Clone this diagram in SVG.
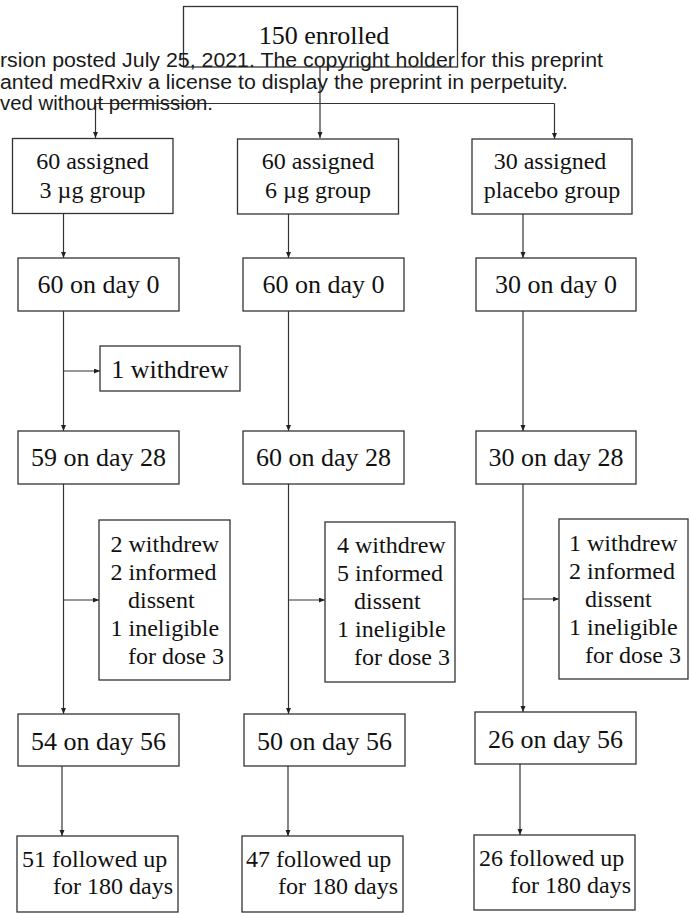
<svg xmlns="http://www.w3.org/2000/svg" width="691" height="913" viewBox="0 0 691 913">
<style>
  .box { fill: #ffffff; stroke: #333333; stroke-width: 1.3; }
  .t26 { font-family: "Liberation Serif", "Times New Roman", serif; font-size: 26px; fill: #111111; text-anchor: middle; }
  .t24 { font-family: "Liberation Serif", "Times New Roman", serif; font-size: 24px; fill: #111111; text-anchor: middle; }
  .t24s { font-family: "Liberation Serif", "Times New Roman", serif; font-size: 24px; fill: #111111; }
  .conn { fill: none; stroke: #333333; stroke-width: 1.2; }
  .wm { font-family: "Liberation Sans", Arial, sans-serif; font-size: 19.5px; fill: #1a1a1a; }
</style>
<defs>
  <marker id="arr" markerUnits="userSpaceOnUse" markerWidth="7" markerHeight="6" refX="6" refY="2.5" orient="auto">
    <path d="M0,0 L6,2.5 L0,5 z" fill="#222222"/>
  </marker>
</defs>

<g id="n-enrolled">
  <rect class="box" x="183.5" y="6.5" width="274" height="60.5"/>
  <text class="t26" x="324" y="44">150 enrolled</text>
</g>

<g id="connectors">
  <path class="conn" d="M320,67 V138" marker-end="url(#arr)"/>
  <path class="conn" d="M95.5,103.5 H554.5"/>
  <path class="conn" d="M95.5,103.5 V138" marker-end="url(#arr)"/>
  <path class="conn" d="M554.5,103.5 V139" marker-end="url(#arr)"/>

  <path class="conn" d="M63.5,213.5 V258" marker-end="url(#arr)"/>
  <path class="conn" d="M288.5,214 V258" marker-end="url(#arr)"/>
  <path class="conn" d="M523,214 V258" marker-end="url(#arr)"/>

  <path class="conn" d="M63.5,311 V431" marker-end="url(#arr)"/>
  <path class="conn" d="M63.5,371 H100" marker-end="url(#arr)"/>
  <path class="conn" d="M288.5,311 V431" marker-end="url(#arr)"/>
  <path class="conn" d="M523,311 V431" marker-end="url(#arr)"/>

  <path class="conn" d="M63.5,484 V714" marker-end="url(#arr)"/>
  <path class="conn" d="M63.5,600 H99" marker-end="url(#arr)"/>
  <path class="conn" d="M288.5,484 V714" marker-end="url(#arr)"/>
  <path class="conn" d="M288.5,600 H325" marker-end="url(#arr)"/>
  <path class="conn" d="M523,484 V712" marker-end="url(#arr)"/>
  <path class="conn" d="M523,599 H559" marker-end="url(#arr)"/>

  <path class="conn" d="M62,766 V836" marker-end="url(#arr)"/>
  <path class="conn" d="M288,766 V836" marker-end="url(#arr)"/>
  <path class="conn" d="M520,764 V835" marker-end="url(#arr)"/>
</g>

<g id="n-assigned-3">
  <rect class="box" x="12.5" y="138.5" width="160.5" height="75"/>
  <text class="t24" x="92.5" y="169">60 assigned</text>
  <text class="t24" x="92.5" y="198">3 µg group</text>
</g>
<g id="n-assigned-6">
  <rect class="box" x="237.5" y="139" width="161" height="75"/>
  <text class="t24" x="318" y="169">60 assigned</text>
  <text class="t24" x="318" y="198">6 µg group</text>
</g>
<g id="n-assigned-placebo">
  <rect class="box" x="472" y="139" width="160" height="75"/>
  <text class="t24" x="550" y="169">30 assigned</text>
  <text class="t24" x="552" y="198">placebo group</text>
</g>

<g id="n-day0-3">
  <rect class="box" x="18" y="258" width="161" height="53"/>
  <text class="t26" x="98.5" y="293">60 on day 0</text>
</g>
<g id="n-day0-6">
  <rect class="box" x="243" y="258" width="161" height="53"/>
  <text class="t26" x="323.5" y="293">60 on day 0</text>
</g>
<g id="n-day0-placebo">
  <rect class="box" x="476" y="258" width="160" height="53"/>
  <text class="t26" x="556" y="293">30 on day 0</text>
</g>

<g id="n-withdrew-1">
  <rect class="box" x="100" y="346" width="140" height="45"/>
  <text class="t26" x="170" y="378">1 withdrew</text>
</g>

<g id="n-day28-3">
  <rect class="box" x="18" y="431" width="161" height="53"/>
  <text class="t26" x="98.5" y="466">59 on day 28</text>
</g>
<g id="n-day28-6">
  <rect class="box" x="243" y="431" width="161" height="53"/>
  <text class="t26" x="323.5" y="466">60 on day 28</text>
</g>
<g id="n-day28-placebo">
  <rect class="box" x="476" y="431" width="160" height="53"/>
  <text class="t26" x="556" y="466">30 on day 28</text>
</g>

<g id="n-excl-3">
  <rect class="box" x="99" y="520" width="131" height="160"/>
  <text class="t24s" x="110.5" y="552">2 withdrew</text>
  <text class="t24s" x="110.5" y="580">2 informed</text>
  <text class="t24s" x="128" y="608">dissent</text>
  <text class="t24s" x="110.5" y="636">1 ineligible</text>
  <text class="t24s" x="128" y="664">for dose 3</text>
</g>
<g id="n-excl-6">
  <rect class="box" x="325" y="522" width="130" height="160"/>
  <text class="t24s" x="337" y="553">4 withdrew</text>
  <text class="t24s" x="337" y="581">5 informed</text>
  <text class="t24s" x="354" y="609">dissent</text>
  <text class="t24s" x="337" y="637">1 ineligible</text>
  <text class="t24s" x="354" y="665">for dose 3</text>
</g>
<g id="n-excl-placebo">
  <rect class="box" x="559" y="519" width="129" height="160"/>
  <text class="t24s" x="569" y="551">1 withdrew</text>
  <text class="t24s" x="569" y="579">2 informed</text>
  <text class="t24s" x="585" y="607">dissent</text>
  <text class="t24s" x="569" y="635">1 ineligible</text>
  <text class="t24s" x="585" y="663">for dose 3</text>
</g>

<g id="n-day56-3">
  <rect class="box" x="18" y="714" width="161" height="52"/>
  <text class="t26" x="98.5" y="750">54 on day 56</text>
</g>
<g id="n-day56-6">
  <rect class="box" x="244" y="714" width="161" height="52"/>
  <text class="t26" x="324.5" y="750">50 on day 56</text>
</g>
<g id="n-day56-placebo">
  <rect class="box" x="475" y="712" width="161" height="52"/>
  <text class="t26" x="555.5" y="748">26 on day 56</text>
</g>

<g id="n-follow-3">
  <rect class="box" x="17" y="836" width="161" height="76"/>
  <text class="t24s" x="22" y="867">51 followed up</text>
  <text class="t24s" x="53" y="894">for 180 days</text>
</g>
<g id="n-follow-6">
  <rect class="box" x="242" y="836" width="161" height="76"/>
  <text class="t24s" x="246" y="867">47 followed up</text>
  <text class="t24s" x="278" y="894">for 180 days</text>
</g>
<g id="n-follow-placebo">
  <rect class="box" x="474" y="835" width="161" height="75"/>
  <text class="t24s" x="479" y="866">26 followed up</text>
  <text class="t24s" x="511" y="893">for 180 days</text>
</g>

<g id="watermark">
  <text class="wm" x="0" y="67" textLength="603" lengthAdjust="spacingAndGlyphs">rsion posted July 25, 2021. The copyright holder for this preprint</text>
  <text class="wm" x="0" y="89" textLength="568" lengthAdjust="spacingAndGlyphs">anted medRxiv a license to display the preprint in perpetuity.</text>
  <text class="wm" x="0" y="110" textLength="213" lengthAdjust="spacingAndGlyphs">ved without permission.</text>
</g>
</svg>
